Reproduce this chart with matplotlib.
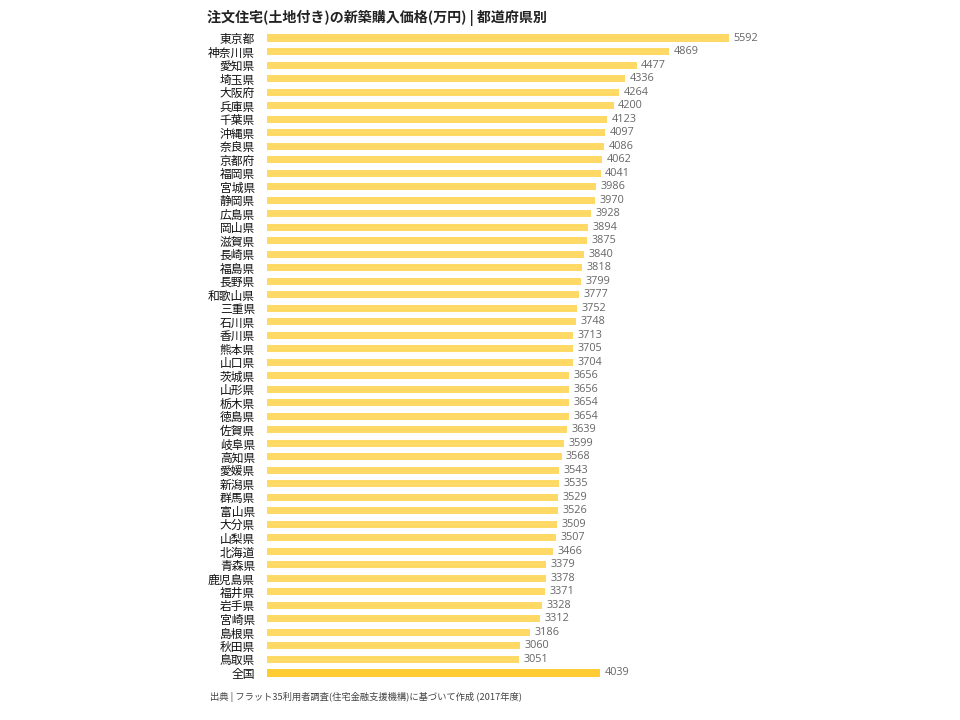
import matplotlib.pyplot as plt

plt.rcParams['font.family'] = ['Noto Sans CJK JP', 'DejaVu Sans']

prefs = ["東京都", "神奈川県", "愛知県", "埼玉県", "大阪府", "兵庫県", "千葉県", "沖縄県",
         "奈良県", "京都府", "福岡県", "宮城県", "静岡県", "広島県", "岡山県", "滋賀県",
         "長崎県", "福島県", "長野県", "和歌山県", "三重県", "石川県", "香川県", "熊本県",
         "山口県", "茨城県", "山形県", "栃木県", "徳島県", "佐賀県", "岐阜県", "高知県",
         "愛媛県", "新潟県", "群馬県", "富山県", "大分県", "山梨県", "北海道", "青森県",
         "鹿児島県", "福井県", "岩手県", "宮崎県", "島根県", "秋田県", "鳥取県", "全国"]
prices = [5592, 4869, 4477, 4336, 4264, 4200, 4123, 4097,
          4086, 4062, 4041, 3986, 3970, 3928, 3894, 3875,
          3840, 3818, 3799, 3777, 3752, 3748, 3713, 3705,
          3704, 3656, 3656, 3654, 3654, 3639, 3599, 3568,
          3543, 3535, 3529, 3526, 3509, 3507, 3466, 3379,
          3378, 3371, 3328, 3312, 3186, 3060, 3051, 4039]

title = "注文住宅(土地付き)の新築購入価格(万円) | 都道府県別"
source = "出典 | フラット35利用者調査(住宅金融支援機構)に基づいて作成 (2017年度)"

fig = plt.figure(figsize=(9.6, 7.2), dpi=100)
ax = fig.add_axes([0.278, 0.0559, 0.481, 0.9007])

# last bar (national average) a bit darker
colors = ["#FFD966"] * (len(prefs) - 1) + ["#FFCC33"]
y = list(range(len(prefs)))
ax.barh(y, prices, height=0.52, color=colors)

for yi, v in zip(y, prices):
    ax.text(v + 55, yi, str(v), va="center", ha="left", fontsize=7.8,
            color="#666666", family=["Open Sans", "DejaVu Sans"], clip_on=False)

ax.set_xlim(0, 5592)
ax.set_ylim(len(prefs) - 0.5, -0.5)
ax.set_yticks(y)
ax.set_yticklabels(prefs, fontsize=8.5, color="#111111")
ax.tick_params(axis="y", length=0, pad=8.5)
ax.set_xticks([])
for s in ax.spines.values():
    s.set_visible(False)

fig.text(207 / 960, 1 - 18 / 720, title, fontsize=10.1, fontweight="bold",
         va="center", ha="left", color="#222222")
fig.text(210 / 960, 1 - 697 / 720, source, fontsize=6.7, va="center",
         ha="left", color="#444444")

plt.savefig("out.png", dpi=100)
